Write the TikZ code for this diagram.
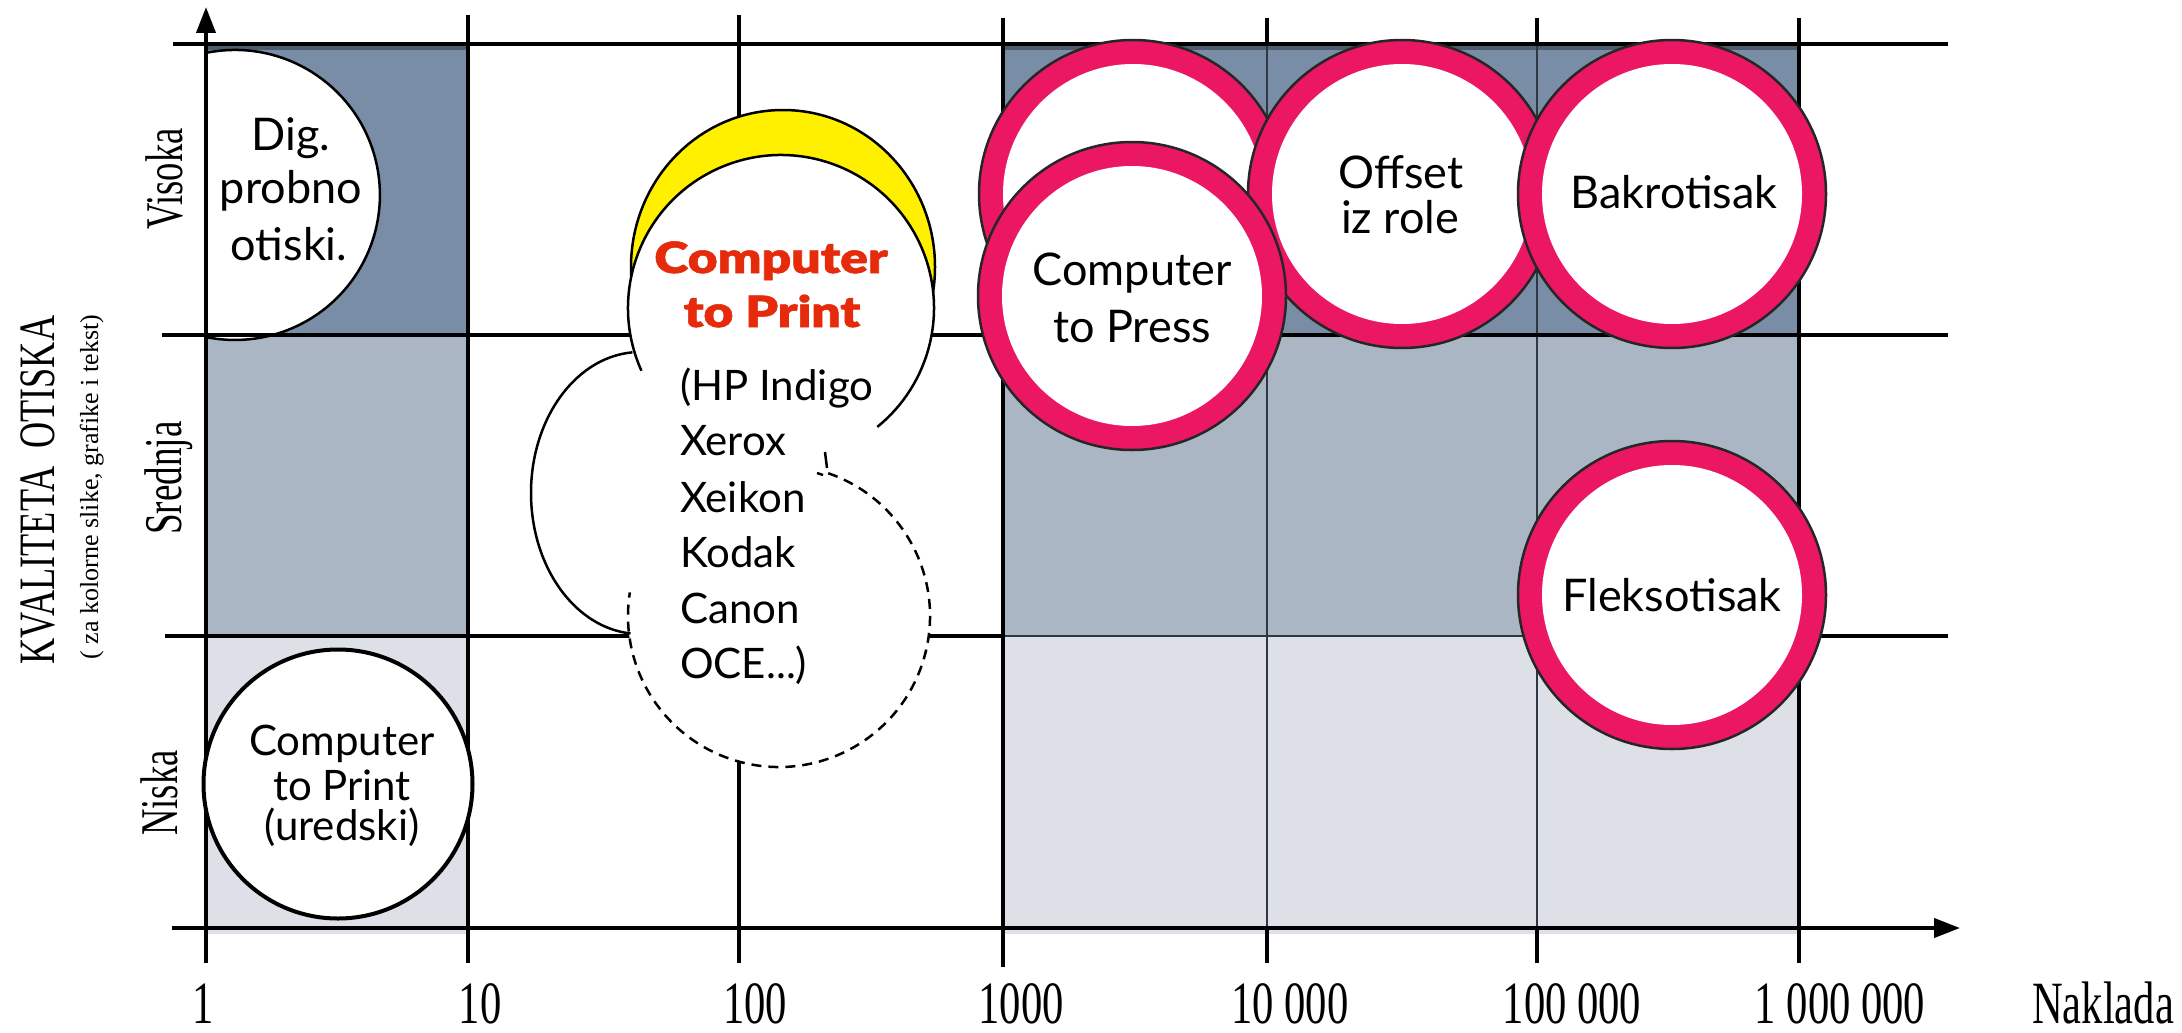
\documentclass[tikz,border=0pt]{standalone}
\usepackage{graphicx}
\usepackage{fontspec}
\setmainfont{Liberation Serif}
\newfontfamily\labfont{Lato}
\newfontfamily\redfont{Lato Black}[FakeBold=1.2]
\usetikzlibrary{arrows.meta}
\definecolor{darkcell}{HTML}{7A8DA6}
\definecolor{midcell}{HTML}{AAB6C4}
\definecolor{lightcell}{HTML}{DDE1E7}
\definecolor{innerline}{HTML}{2E3744}
\definecolor{topband}{HTML}{4F5B6B}
\definecolor{ringpink}{HTML}{EC1763}
\definecolor{bubbleyellow}{HTML}{FFF000}
\definecolor{ctpred}{HTML}{E52B0C}
\newcommand{\cond}[2]{\scalebox{#1}[1]{#2}}
\begin{document}
\begin{tikzpicture}[x=1pt,y=-1pt,
  gridline/.style={line width=3.2pt, draw=black},
  innergrid/.style={line width=2.4pt, draw=innerline},
  border/.style={line width=4pt, draw=black},
  axisline/.style={line width=4pt, draw=black, fill=black, -{Triangle[length=26pt,width=19pt]}},
  outline/.style={line width=2.5pt, draw=black},
  ringouter/.style={draw=black!85, line width=2.5pt, fill=ringpink},
  lab/.style={font=\labfont\fontsize{45}{54}\selectfont, inner sep=0pt, anchor=base},
  smalllab/.style={font=\labfont\fontsize{42}{50}\selectfont, inner sep=0pt, anchor=base},
  listlab/.style={font=\labfont\fontsize{42}{50}\selectfont, inner sep=0pt, anchor=base west},
  redlab/.style={font=\redfont\fontsize{43}{54}\selectfont, text=ctpred, inner sep=0pt, anchor=base},
  ticklab/.style={font=\fontsize{60}{60}\selectfont, inner sep=0pt, anchor=base},
  rowlab/.style={font=\fontsize{53}{53}\selectfont, inner sep=0pt, anchor=base, rotate=90},
]
\useasboundingbox (0,0) rectangle (2182,1033);

% ---- cell fills
\fill[darkcell]  (206,44)  rectangle (468,335);
\fill[midcell]   (206,335) rectangle (468,636);
\fill[lightcell] (206,636) rectangle (468,934);
\fill[darkcell]  (1003,44)  rectangle (1799,335);
\fill[midcell]   (1003,335) rectangle (1799,636);
\fill[lightcell] (1003,636) rectangle (1799,934);
\draw[topband, line width=4pt] (206,48) -- (468,48);
\draw[topband, line width=4pt] (1003,48) -- (1799,48);

% ---- Dig. probno otiski. (half disc)
\fill[white] (208,52.5) arc[start angle=-100.7, end angle=100.7, radius=145] -- cycle;
\draw[outline] (208,52.5) arc[start angle=-100.7, end angle=100.7, radius=145];

% ---- grid
\draw[gridline] (173,44) -- (1948,44);
\draw[gridline] (162,335) -- (1948,335);
\draw[gridline] (165,636) -- (1003,636);
\draw[innergrid] (1003,636) -- (1799,636);
\draw[gridline] (1799,636) -- (1948,636);
\draw[gridline] (468,15) -- (468,963);
\draw[gridline] (739,15) -- (739,963);
\draw[gridline] (1003,18) -- (1003,967);
\draw[gridline] (1267,18) -- (1267,44);
\draw[innergrid] (1267,44) -- (1267,928);
\draw[gridline] (1267,928) -- (1267,963);
\draw[gridline] (1537,18) -- (1537,44);
\draw[innergrid] (1537,44) -- (1537,928);
\draw[gridline] (1537,928) -- (1537,963);
\draw[gridline] (1799,18) -- (1799,963);
\draw[border] (206,44) rectangle (468,335);
\draw[border] (1003,44) rectangle (1799,335);

% ---- axes
\coordinate (ybot) at (206,963);
\coordinate (ytop) at (206,7);
\coordinate (xleft) at (172,928);
\coordinate (xright) at (1960,928);
\draw[axisline] (ybot) -- (ytop);
\draw[axisline] (xleft) -- (xright);

% ---- low quality circle
\filldraw[fill=white, draw=black, line width=4pt] (338,784) circle (134.5);

% ---- Computer to Print bubble
\filldraw[outline, fill=bubbleyellow] (783,267) ellipse [x radius=152, y radius=157];
\fill[white] (781,308) circle (153);
\fill[white] (640,493) ellipse [x radius=109, y radius=141];
\fill[white] (779,616) circle (151);
\fill[white] (650,340) rectangle (910,640);
\draw[outline] (781,308) ++(155.8:153) arc[start angle=155.8, end angle=411, radius=153];
\draw[outline] (640,493) ++(266:109 and 141) arc[start angle=266, end angle=95, x radius=109, y radius=141];
\draw[outline, dash pattern=on 10pt off 7pt] (779,616) ++(-71:151) arc[start angle=-71, end angle=189, radius=151];
\draw[outline] (825,452) -- (827,468);
\draw[outline] (817,473) -- (823,475);

% ---- offset-type rings
\coordinate (cpback) at (1133,194);
\coordinate (cpfront) at (1132,296);
\coordinate (offc) at (1402,194);
\coordinate (bakc) at (1672,194);
\coordinate (flekc) at (1672,595);
\filldraw[ringouter] (cpback) circle (154); \fill[white] (cpback) circle (130);
\filldraw[ringouter] (offc) circle (154); \fill[white] (offc) circle (130);
\filldraw[ringouter] (cpfront) circle (154); \fill[white] (cpfront) circle (130);
\filldraw[ringouter] (bakc) circle (154); \fill[white] (bakc) circle (130);
\filldraw[ringouter] (flekc) circle (154); \fill[white] (flekc) circle (130);

% ---- texts in shapes
\node[lab] (dig1) at (291,150) {Dig.};
\node[lab] (dig2) at (291,203) {probno};
\node[lab] (dig3) at (289,260) {otiski.};
\node[smalllab] (ctpo1) at (342,755) {Computer};
\node[smalllab] (ctpo2) at (342,800) {to Print};
\node[smalllab] (ctpo3) at (342,840) {(uredski)};
\node[redlab] (ctp1) at (771,273) {\cond{1.2}{Computer}};
\node[redlab] (ctp2) at (772,327) {\cond{1.2}{to Print}};
\node[listlab] (l1) at (680,400) {(HP Indigo};
\node[listlab] (l2) at (680,455) {Xerox};
\node[listlab] (l3) at (680,512) {Xeikon};
\node[listlab] (l4) at (680,567) {Kodak};
\node[listlab] (l5) at (680,623) {Canon};
\node[listlab] (l6) at (680,678) {OCE...)};
\node[lab] (cpr1) at (1132,285) {Computer};
\node[lab] (cpr2) at (1132,342) {to Press};
\node[lab] (off1) at (1401,188) {Offset};
\node[lab] (off2) at (1400,233) {iz role};
\node[lab] (bak) at (1674,208) {Bakrotisak};
\node[lab] (flek) at (1672,611) {Fleksotisak};

% ---- axis labels
\node[ticklab] (t1) at (203,1023) {\cond{0.71}{1}};
\node[ticklab] (t10) at (480,1023) {\cond{0.71}{10}};
\node[ticklab] (t100) at (755,1023) {\cond{0.71}{100}};
\node[ticklab] (t1k) at (1021,1023) {\cond{0.71}{1000}};
\node[ticklab] (t10k) at (1290,1023) {\cond{0.71}{10 000}};
\node[ticklab] (t100k) at (1572,1023) {\cond{0.71}{100 000}};
\node[ticklab] (t1m) at (1840,1023) {\cond{0.71}{1 000 000}};
\node[ticklab] (nak) at (2103,1023) {\cond{0.71}{Naklada}};
\node[rowlab] (vis) at (182,179) {\cond{0.69}{Visoka}};
\node[rowlab] (sre) at (181,478) {\cond{0.70}{Srednja}};
\node[rowlab] (nis) at (177,793) {\cond{0.69}{Niska}};
\node[rowlab, font=\fontsize{51}{51}\selectfont] (kval) at (54,490) {\cond{0.71}{KVALITETA\ \ OTISKA}};
\node[rowlab, font=\fontsize{26}{26}\selectfont] (kvsub) at (98,487) {( za kolorne slike, grafike i tekst)};
\end{tikzpicture}
\end{document}
